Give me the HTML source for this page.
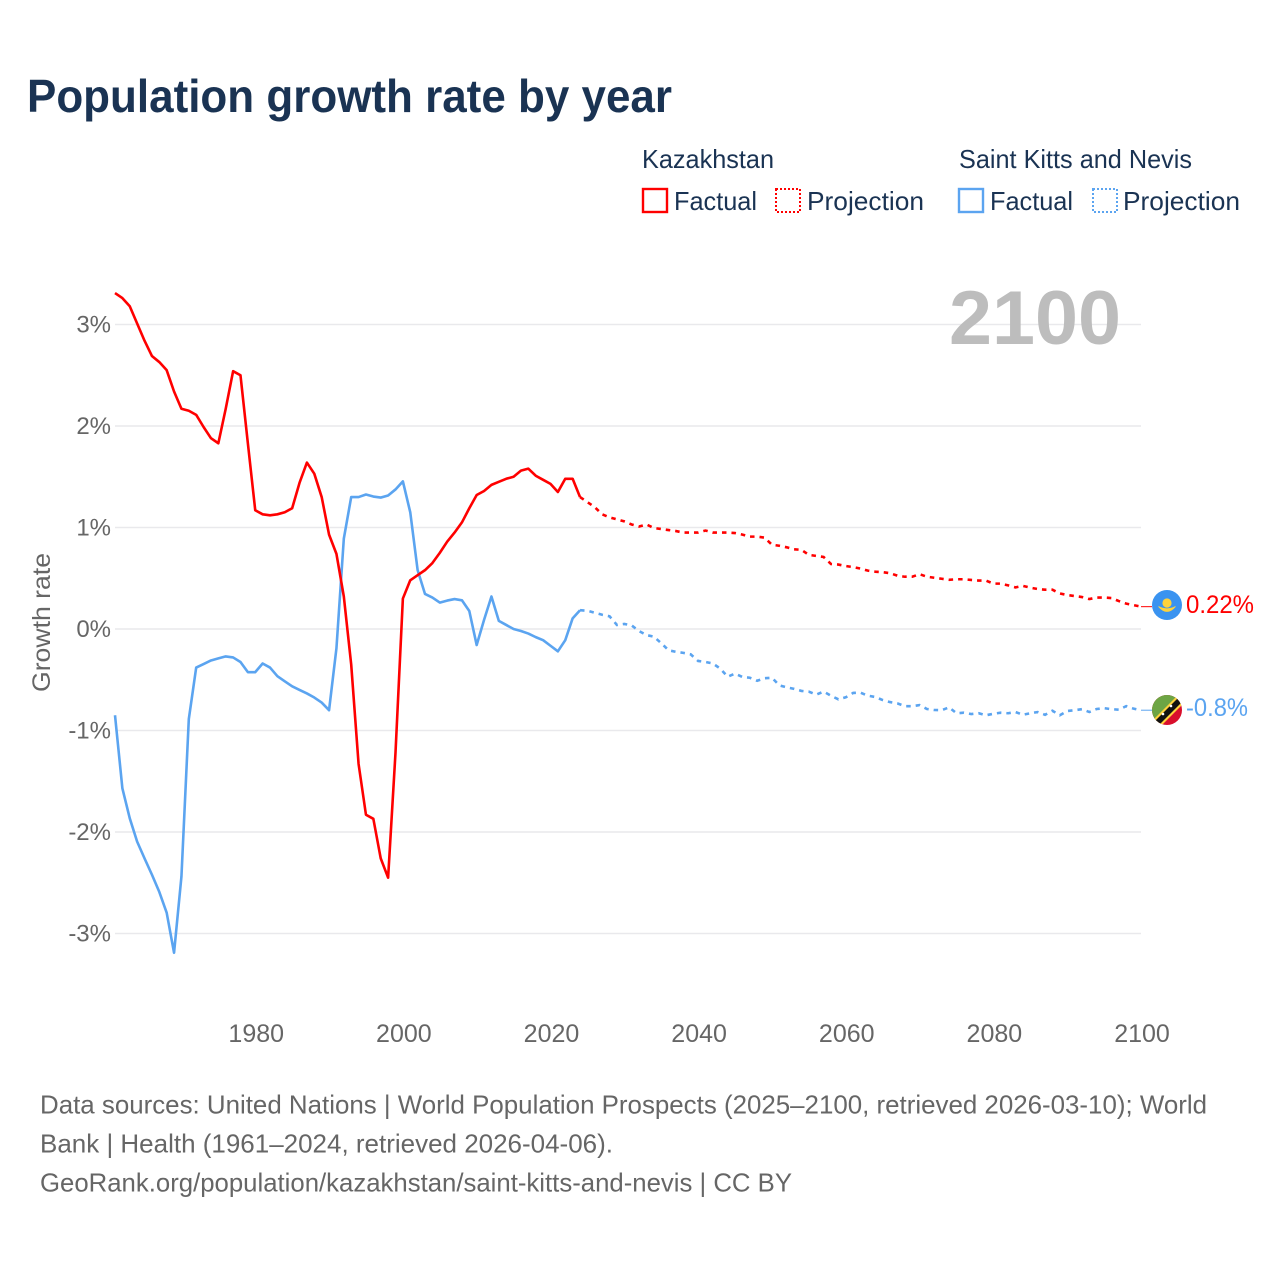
<!DOCTYPE html>
<html lang="en">
<head>
<meta charset="utf-8">
<title>Population growth rate by year</title>
<style>
html,body{margin:0;padding:0;background:#fff;width:1280px;height:1280px;overflow:hidden}
svg{display:block}
text{font-family:"Liberation Sans",sans-serif}
</style>
</head>
<body>
<svg id="chart" width="1280" height="1280" viewBox="0 0 1280 1280" xmlns="http://www.w3.org/2000/svg">
  <defs>
    <clipPath id="clip-kz"><circle cx="1167" cy="605" r="15"/></clipPath>
    <clipPath id="clip-kn"><circle cx="1167" cy="710" r="15"/></clipPath>
  </defs>
  <text x="27" y="112" font-size="46" font-weight="700" fill="#1a3353" textLength="645" lengthAdjust="spacingAndGlyphs">Population growth rate by year</text>

  <g font-size="26" fill="#1a3353">
    <text x="642" y="168" textLength="132" lengthAdjust="spacingAndGlyphs">Kazakhstan</text>
    <text x="959" y="168" textLength="233" lengthAdjust="spacingAndGlyphs">Saint Kitts and Nevis</text>
    <rect x="643" y="189" width="24" height="23" fill="none" stroke="#ff0000" stroke-width="2.4"/>
    <text x="674" y="210" textLength="83" lengthAdjust="spacingAndGlyphs">Factual</text>
    <rect x="776" y="189" width="24" height="23" fill="none" stroke="#ff0000" stroke-width="2" stroke-dasharray="2 2"/>
    <text x="807" y="210" textLength="117" lengthAdjust="spacingAndGlyphs">Projection</text>
    <rect x="959" y="189" width="24" height="23" fill="none" stroke="#5ba4f0" stroke-width="2.4"/>
    <text x="990" y="210" textLength="83" lengthAdjust="spacingAndGlyphs">Factual</text>
    <rect x="1093" y="189" width="24" height="23" fill="none" stroke="#5ba4f0" stroke-width="2" stroke-dasharray="2 2"/>
    <text x="1123" y="210" textLength="117" lengthAdjust="spacingAndGlyphs">Projection</text>
  </g>

  <g id="grid"></g>
  <g id="y-axis"></g>
  <g id="x-axis"></g>

  <text x="949" y="344" font-size="76" font-weight="700" fill="#bdbdbd" textLength="172" lengthAdjust="spacingAndGlyphs">2100</text>
  <text transform="translate(50,692) rotate(-90)" font-size="25" fill="#666666" textLength="139" lengthAdjust="spacingAndGlyphs">Growth rate</text>

  <g id="series"></g>

  <g clip-path="url(#clip-kz)">
    <rect x="1152" y="590" width="30" height="30" fill="#3a93f0"/>
    <circle cx="1167" cy="603" r="4.6" fill="#ffd23c"/>
    <path d="M1158.5 606.5 Q1167 616.5 1175.5 606.5 Q1167 611 1158.5 606.5Z" fill="#ffd23c" stroke="#ffd23c" stroke-width="0.8"/>
  </g>
  <g clip-path="url(#clip-kn)">
    <rect x="1152" y="695" width="30" height="30" fill="#d90f2c"/>
    <path d="M1152 695H1182L1152 725Z" fill="#6da544"/>
    <path d="M1151 722L1179 694L1186 701L1158 729Z" fill="#ffd23c"/>
    <path d="M1153 723L1180 696L1184 700L1157 727Z" fill="#111111"/>
    <circle cx="1163" cy="714" r="1.3" fill="#ffffff"/>
    <circle cx="1171" cy="706" r="1.3" fill="#ffffff"/>
  </g>
  <text id="value-kz" x="1186" y="613" font-size="25" fill="#ff0000" textLength="68" lengthAdjust="spacingAndGlyphs"></text>
  <text id="value-kn" x="1186" y="716" font-size="25" fill="#5ba4f0" textLength="62" lengthAdjust="spacingAndGlyphs"></text>

  <g font-size="26" fill="#666666">
    <text x="40" y="1113.5" textLength="1167" lengthAdjust="spacingAndGlyphs">Data sources: United Nations | World Population Prospects (2025–2100, retrieved 2026-03-10); World</text>
    <text x="40" y="1152.5" textLength="573" lengthAdjust="spacingAndGlyphs">Bank | Health (1961–2024, retrieved 2026-04-06).</text>
    <text x="40" y="1191.5" textLength="752" lengthAdjust="spacingAndGlyphs">GeoRank.org/population/kazakhstan/saint-kitts-and-nevis | CC BY</text>
  </g>
</svg>
<script>
const xTickYears = [1980, 2000, 2020, 2040, 2060, 2080, 2100];
const yTickValues = [3, 2, 1, 0, -1, -2, -3];
const factualStartYear = 1961;
const projectionStartYear = 2024;
const kazakhstanFactual = [3.31,3.26,3.18,3.01,2.84,2.69,2.63,2.55,2.34,2.17,2.15,2.11,1.99,1.88,1.83,2.17,2.54,2.50,1.83,1.17,1.13,1.12,1.13,1.15,1.19,1.44,1.64,1.53,1.30,0.93,0.74,0.32,-0.35,-1.33,-1.83,-1.87,-2.26,-2.45,-1.22,0.30,0.48,0.53,0.58,0.65,0.75,0.86,0.95,1.05,1.19,1.32,1.36,1.42,1.45,1.48,1.50,1.56,1.58,1.51,1.47,1.43,1.35,1.48,1.48,1.30];
const kazakhstanProjection = [1.30,1.25,1.20,1.13,1.10,1.08,1.06,1.03,1.01,1.03,0.995,0.985,0.975,0.965,0.95,0.95,0.95,0.97,0.95,0.95,0.95,0.945,0.93,0.91,0.91,0.90,0.83,0.82,0.805,0.785,0.78,0.73,0.72,0.71,0.64,0.635,0.62,0.61,0.595,0.575,0.565,0.56,0.55,0.525,0.515,0.515,0.54,0.515,0.505,0.495,0.485,0.49,0.49,0.483,0.477,0.477,0.447,0.447,0.43,0.41,0.425,0.407,0.394,0.387,0.387,0.35,0.335,0.325,0.315,0.295,0.31,0.31,0.305,0.275,0.25,0.235,0.22];
const saintKittsFactual = [-0.85,-1.57,-1.865,-2.095,-2.26,-2.42,-2.59,-2.795,-3.19,-2.44,-0.887,-0.38,-0.345,-0.31,-0.29,-0.27,-0.28,-0.325,-0.425,-0.425,-0.34,-0.38,-0.465,-0.515,-0.565,-0.60,-0.635,-0.675,-0.725,-0.80,-0.19,0.89,1.30,1.30,1.325,1.305,1.295,1.315,1.375,1.455,1.15,0.58,0.345,0.31,0.26,0.28,0.295,0.283,0.177,-0.158,0.09,0.32,0.08,0.04,0.0,-0.02,-0.045,-0.08,-0.11,-0.165,-0.22,-0.11,0.105,0.185];
const saintKittsProjection = [0.185,0.18,0.16,0.14,0.125,0.04,0.05,0.035,-0.02,-0.06,-0.075,-0.14,-0.21,-0.225,-0.235,-0.25,-0.315,-0.325,-0.34,-0.39,-0.47,-0.44,-0.473,-0.48,-0.51,-0.485,-0.48,-0.555,-0.575,-0.59,-0.61,-0.617,-0.647,-0.617,-0.657,-0.693,-0.673,-0.63,-0.627,-0.657,-0.67,-0.70,-0.72,-0.733,-0.76,-0.76,-0.75,-0.788,-0.798,-0.80,-0.772,-0.83,-0.825,-0.838,-0.83,-0.85,-0.835,-0.825,-0.83,-0.818,-0.845,-0.83,-0.818,-0.845,-0.805,-0.85,-0.808,-0.80,-0.79,-0.818,-0.788,-0.78,-0.79,-0.795,-0.76,-0.785,-0.80];

const SVG_NS = 'http://www.w3.org/2000/svg';
function xScale(year) { return 115 + (year - 1961) * (1141 - 115) / (2100 - 1961); }
function yScale(value) { return 629 - value * 101.5; }
function linePoints(values, startYear) {
  return values.map(function (v, i) {
    return xScale(startYear + i).toFixed(2) + ',' + yScale(v).toFixed(2);
  }).join(' ');
}

const gridGroup = document.getElementById('grid');
const yAxisGroup = document.getElementById('y-axis');
yTickValues.forEach(function (v) {
  const gridLine = document.createElementNS(SVG_NS, 'line');
  
  
  gridLine.setAttribute('x1', 115);
  gridLine.setAttribute('x2', 1141);
  gridLine.setAttribute('y1', yScale(v));
  gridLine.setAttribute('y2', yScale(v));
  gridLine.setAttribute('stroke', '#e9e9ec');
  gridLine.setAttribute('stroke-width', '1.5');
  gridGroup.appendChild(gridLine);

  const label = document.createElementNS(SVG_NS, 'text');
  
  
  label.setAttribute('x', 111);
  label.setAttribute('y', yScale(v) + 8);
  label.setAttribute('text-anchor', 'end');
  label.setAttribute('font-size', '24');
  label.setAttribute('fill', '#666666');
  label.textContent = v + '%';
  yAxisGroup.appendChild(label);
});

const xAxisGroup = document.getElementById('x-axis');
xTickYears.forEach(function (year) {
  const label = document.createElementNS(SVG_NS, 'text');
  
  
  label.setAttribute('x', xScale(year) + 1);
  label.setAttribute('y', 1042);
  label.setAttribute('text-anchor', 'middle');
  label.setAttribute('font-size', '25');
  label.setAttribute('fill', '#666666');
  label.textContent = String(year);
  xAxisGroup.appendChild(label);
});

const seriesGroup = document.getElementById('series');

const saintKittsFactualLine = document.createElementNS(SVG_NS, 'polyline');


saintKittsFactualLine.setAttribute('points', linePoints(saintKittsFactual, factualStartYear));
saintKittsFactualLine.setAttribute('fill', 'none');
saintKittsFactualLine.setAttribute('stroke', '#5ba4f0');
saintKittsFactualLine.setAttribute('stroke-width', '2.6');
saintKittsFactualLine.setAttribute('stroke-linejoin', 'round');
seriesGroup.appendChild(saintKittsFactualLine);

const saintKittsProjectionLine = document.createElementNS(SVG_NS, 'polyline');


saintKittsProjectionLine.setAttribute('points', linePoints(saintKittsProjection, projectionStartYear));
saintKittsProjectionLine.setAttribute('fill', 'none');
saintKittsProjectionLine.setAttribute('stroke', '#5ba4f0');
saintKittsProjectionLine.setAttribute('stroke-width', '2.6');
saintKittsProjectionLine.setAttribute('stroke-dasharray', '4.5 5');
seriesGroup.appendChild(saintKittsProjectionLine);

const kazakhstanFactualLine = document.createElementNS(SVG_NS, 'polyline');


kazakhstanFactualLine.setAttribute('points', linePoints(kazakhstanFactual, factualStartYear));
kazakhstanFactualLine.setAttribute('fill', 'none');
kazakhstanFactualLine.setAttribute('stroke', '#ff0000');
kazakhstanFactualLine.setAttribute('stroke-width', '2.6');
kazakhstanFactualLine.setAttribute('stroke-linejoin', 'round');
seriesGroup.appendChild(kazakhstanFactualLine);

const kazakhstanProjectionLine = document.createElementNS(SVG_NS, 'polyline');


kazakhstanProjectionLine.setAttribute('points', linePoints(kazakhstanProjection, projectionStartYear));
kazakhstanProjectionLine.setAttribute('fill', 'none');
kazakhstanProjectionLine.setAttribute('stroke', '#ff0000');
kazakhstanProjectionLine.setAttribute('stroke-width', '2.6');
kazakhstanProjectionLine.setAttribute('stroke-dasharray', '4.5 5');
seriesGroup.appendChild(kazakhstanProjectionLine);

const kzEnd = kazakhstanProjection[kazakhstanProjection.length - 1];
const knEnd = saintKittsProjection[saintKittsProjection.length - 1];

const kzConnector = document.createElementNS(SVG_NS, 'line');


kzConnector.setAttribute('x1', 1141);
kzConnector.setAttribute('x2', 1152);
kzConnector.setAttribute('y1', yScale(kzEnd));
kzConnector.setAttribute('y2', yScale(kzEnd));
kzConnector.setAttribute('stroke', '#ff0000');
kzConnector.setAttribute('stroke-width', '1');
seriesGroup.appendChild(kzConnector);

const knConnector = document.createElementNS(SVG_NS, 'line');


knConnector.setAttribute('x1', 1141);
knConnector.setAttribute('x2', 1152);
knConnector.setAttribute('y1', yScale(knEnd));
knConnector.setAttribute('y2', yScale(knEnd));
knConnector.setAttribute('stroke', '#5ba4f0');
knConnector.setAttribute('stroke-width', '1');
seriesGroup.appendChild(knConnector);

document.getElementById('value-kz').textContent = kzEnd + '%';
document.getElementById('value-kn').textContent = knEnd + '%';
</script>
</body>
</html>
